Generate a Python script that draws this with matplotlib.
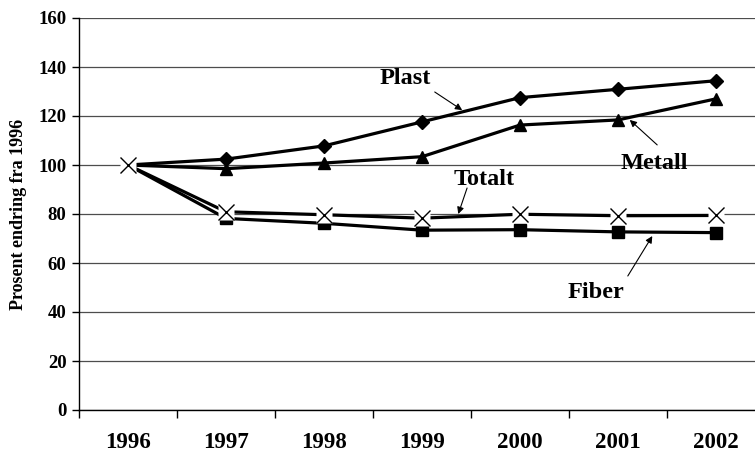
import matplotlib
matplotlib.use("Agg")
from matplotlib import pyplot as plt

years = ["1996", "1997", "1998", "1999", "2000", "2001", "2002"]
plast = [100, 102.4, 107.8, 117.6, 127.5, 130.9, 134.4]
metall = [100, 98.5, 100.8, 103.4, 116.3, 118.4, 127.0]
fiber = [100, 78.2, 76.2, 73.4, 73.6, 72.7, 72.4]
totalt = [100, 80.9, 79.7, 78.3, 79.9, 79.3, 79.4]
y_ticks = [0, 20, 40, 60, 80, 100, 120, 140, 160]

plt.rcParams['font.family'] = ['Liberation Serif', 'DejaVu Serif']
plt.rcParams['font.weight'] = 'bold'

fig = plt.figure(figsize=(7.55, 4.55), dpi=100)
ax = fig.add_axes([79 / 755, 45 / 455, 686 / 755, 392 / 455])

x = list(range(len(years)))

ax.plot(x, plast, color='black', lw=2.3, marker='D', markersize=7, zorder=3)
ax.plot(x, metall, color='black', lw=2.3, marker='^', markersize=9, zorder=3)
ax.plot(x, fiber, color='black', lw=2.3, marker='s', markersize=8, zorder=3)
ax.plot(x, totalt, color='black', lw=2.3, zorder=4)
# white patch behind the x markers, like the old spreadsheet charts
ax.plot(x, totalt, linestyle='none', marker='s', markersize=11,
        markerfacecolor='white', markeredgecolor='none', zorder=5)
ax.plot(x, totalt, linestyle='none', marker='x', markersize=11,
        markeredgewidth=1.0, color='black', zorder=6)

ax.set_xlim(-0.5, len(years) - 0.5)
ax.set_ylim(0, 160)
ax.set_yticks(y_ticks)
ax.set_yticklabels([str(v) for v in y_ticks], fontsize=13.5, fontweight='bold')
ax.set_xticks(x)
ax.set_xticklabels(years, fontsize=16.5, fontweight='bold')
ax.set_xticks([i - 0.5 for i in range(len(years) + 1)], minor=True)
ax.tick_params(axis='x', which='major', length=0, pad=16)
ax.tick_params(axis='x', which='minor', length=6, width=1, direction='out')
ax.tick_params(axis='y', length=5, width=1, direction='out', pad=4)

ax.grid(axis='y', color='0.3', lw=0.9)
ax.set_axisbelow(True)
for s in ['top', 'right']:
    ax.spines[s].set_visible(False)
ax.spines['left'].set_linewidth(1.0)
ax.spines['bottom'].set_linewidth(1.0)

ax.set_ylabel('Prosent endring fra 1996', fontsize=13, fontweight='bold', labelpad=8)

arrow = dict(arrowstyle='-|>', color='black', lw=0.8, mutation_scale=10, shrinkA=0, shrinkB=0)
labels = [
    ('Plast', (2.83, 135.5), (3.13, 129.8), (3.41, 122.4)),
    ('Metall', (5.37, 100.8), (5.40, 108.2), (5.12, 118.4)),
    ('Totalt', (3.63, 93.9), (3.46, 90.6), (3.37, 80)),
    ('Fiber', (4.77, 47.8), (5.10, 54.7), (5.35, 71)),
]
for name, txt_pos, tail, head in labels:
    ax.text(txt_pos[0], txt_pos[1], name, ha='center', va='center',
            fontsize=17.5, fontweight='bold', zorder=7)
    ax.annotate('', xy=head, xytext=tail, arrowprops=arrow)

fig.savefig('out.png', dpi=100)
